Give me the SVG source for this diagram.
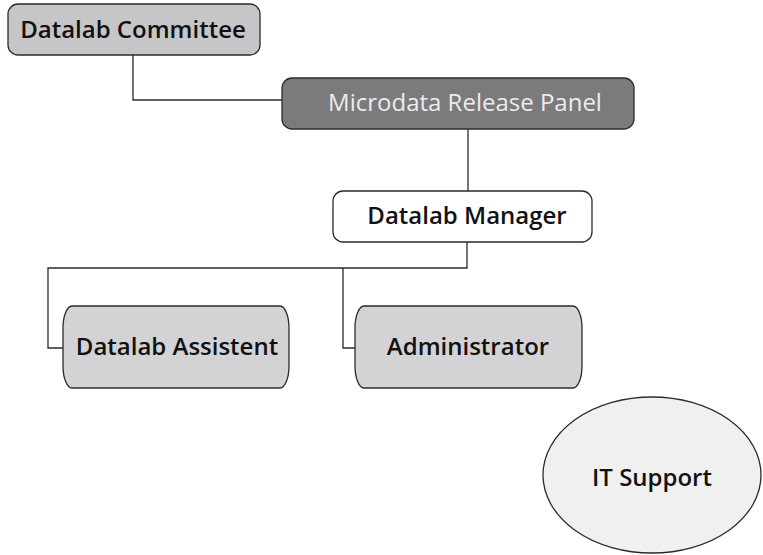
<svg xmlns="http://www.w3.org/2000/svg" width="763" height="555" viewBox="0 0 763 555">
  <style>
    .box { stroke: #2b2b2b; stroke-width: 1.3; }
    .lbl { font-family: "Open Sans", "Liberation Sans", sans-serif; font-weight: 600; font-size: 24px; fill: #111; text-anchor: middle; }
    .lbl-light { font-weight: 400; fill: #ececec; font-size: 24px; }
    .wire { fill: none; stroke: #2b2b2b; stroke-width: 1.3; }
  </style>
  <rect width="763" height="555" fill="#ffffff"/>

  <g id="connectors">
    <path class="wire" d="M133,55 V100 H282"/>
    <path class="wire" d="M468,129 V191"/>
    <path class="wire" d="M467,242 V268 H48 V348 H63"/>
    <path class="wire" d="M343,268 V348 H355"/>
  </g>

  <g id="datalab-committee">
    <rect class="box" x="8" y="4" width="252" height="51" rx="10" ry="10" fill="#c6c6c8"/>
    <text class="lbl" x="133" y="38">Datalab Committee</text>
  </g>

  <g id="microdata-release-panel">
    <rect class="box" x="282" y="78" width="352" height="51" rx="10" ry="10" fill="#7b7b7d"/>
    <text class="lbl lbl-light" x="465" y="111">Microdata Release Panel</text>
  </g>

  <g id="datalab-manager">
    <rect class="box" x="333" y="191" width="259" height="51" rx="10" ry="10" fill="#ffffff"/>
    <text class="lbl" x="467" y="224">Datalab Manager</text>
  </g>

  <g id="datalab-assistent">
    <rect class="box" x="63" y="306" width="226" height="82" rx="9" ry="22" fill="#d3d3d5"/>
    <text class="lbl" x="177" y="355">Datalab Assistent</text>
  </g>

  <g id="administrator">
    <rect class="box" x="355" y="306" width="227" height="82" rx="9" ry="22" fill="#d3d3d5"/>
    <text class="lbl" x="468" y="355">Administrator</text>
  </g>

  <g id="it-support">
    <ellipse class="box" cx="652" cy="475" rx="109" ry="78" fill="#f0f0f0"/>
    <text class="lbl" x="652" y="486">IT Support</text>
  </g>
</svg>
